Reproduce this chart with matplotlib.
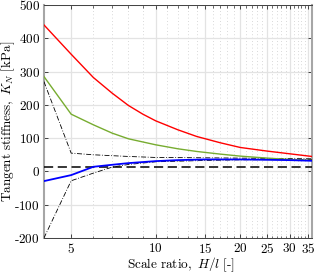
import matplotlib
matplotlib.use("Agg")
import matplotlib.pyplot as plt
from matplotlib.ticker import FixedLocator, FuncFormatter, NullFormatter
import numpy as np

plt.rcParams['mathtext.fontset'] = 'cm'
plt.rcParams['font.family'] = 'serif'
plt.rcParams['font.serif'] = ['DejaVu Serif']

# Data
x_red = [4, 5, 6, 7, 8, 9, 10, 12, 14, 17, 20, 25, 30, 36]
y_red = [440, 352, 282, 235, 198, 172, 152, 125, 105, 86, 72, 61, 53, 45]

x_green = [4, 5, 6, 7, 8, 10, 12, 14, 17, 20, 25, 30, 36]
y_green = [285, 172, 140, 115, 98, 80, 68, 60, 52, 46, 40, 36, 33]

x_blue = [4, 5, 6, 7, 8, 10, 12, 15, 20, 25, 30, 36]
y_blue = [-29, -11, 14, 20, 25, 31, 34, 36, 36, 35, 34, 32]

x_upper = [4, 5, 6, 8, 10, 15, 20, 36]
y_upper = [270, 55, 50, 45, 42, 41, 40, 38]

x_lower = [4, 5, 6, 7, 8, 10, 15, 20, 36]
y_lower = [-200, -28, -5, 13, 21, 29, 33, 35, 36]

y_ref = 12

xticks = [5, 10, 15, 20, 25, 30, 35]
yticks = [-200, -100, 0, 100, 200, 300, 400, 500]
xlim = (4, 36)
ylim = (-200, 500)

fig = plt.figure(figsize=(3.16, 2.73), dpi=100)
ax = fig.add_axes([0.139, 0.128, 0.848, 0.854])
ax.set_xscale('log')

ax.plot(x_red, y_red, color='#ff0000', lw=1.0, zorder=5)
ax.plot(x_green, y_green, color='#77ac30', lw=1.0, zorder=5)
ax.plot(x_blue, y_blue, color='#0000ff', lw=1.3, zorder=6)
ax.plot(x_upper, y_upper, color='black', lw=0.6, linestyle=(0, (6, 2, 1, 2)), zorder=4)
ax.plot(x_lower, y_lower, color='black', lw=0.6, linestyle=(0, (6, 2, 1, 2)), zorder=4)
ax.axhline(y_ref, color='black', lw=1.1, linestyle=(0, (6, 3)), zorder=4)

ax.set_xlim(*xlim)
ax.set_ylim(*ylim)

ax.xaxis.set_major_locator(FixedLocator(xticks))
ax.xaxis.set_minor_locator(FixedLocator([v for v in range(4, 37) if v not in xticks]))
ax.xaxis.set_major_formatter(FuncFormatter(lambda v, p: r'$%d$' % v))
ax.xaxis.set_minor_formatter(NullFormatter())
ax.yaxis.set_major_locator(FixedLocator(yticks))
ax.yaxis.set_major_formatter(FuncFormatter(lambda v, p: r'$%d$' % v if v >= 0 else r'$\text{-}%d$' % (-v)))

ax.grid(True, which='major', color='#e3e3e3', lw=0.9, linestyle='-', zorder=0)
ax.grid(True, which='minor', axis='x', color='#cccccc', lw=0.6, linestyle=(0, (1, 3)), zorder=0)
ax.set_axisbelow(True)

ax.tick_params(which='both', direction='in', top=True, right=True, labelsize=9.5, pad=3,
               color='#262626')
ax.tick_params(which='major', length=3, width=0.6)
ax.tick_params(which='minor', length=1.8, width=0.5)

for s in ['left', 'right']:
    ax.spines[s].set_color('#a6a6a6')
    ax.spines[s].set_linewidth(1.5)
for s in ['top', 'bottom']:
    ax.spines[s].set_color('#404040')
    ax.spines[s].set_linewidth(0.7)

ax.set_xlabel(r'$\mathrm{Scale\ ratio,}\ H/l\ \mathrm{[\text{-}]}$', fontsize=9.5)
ax.set_ylabel(r'$\mathrm{Tangent\ stiffness,}\ K_N\ \mathrm{[kPa]}$', fontsize=9.5)
ax.xaxis.set_label_coords(0.51, -0.075)
ax.yaxis.set_label_coords(-0.10, 0.5)

fig.savefig('out.png', dpi=100)
